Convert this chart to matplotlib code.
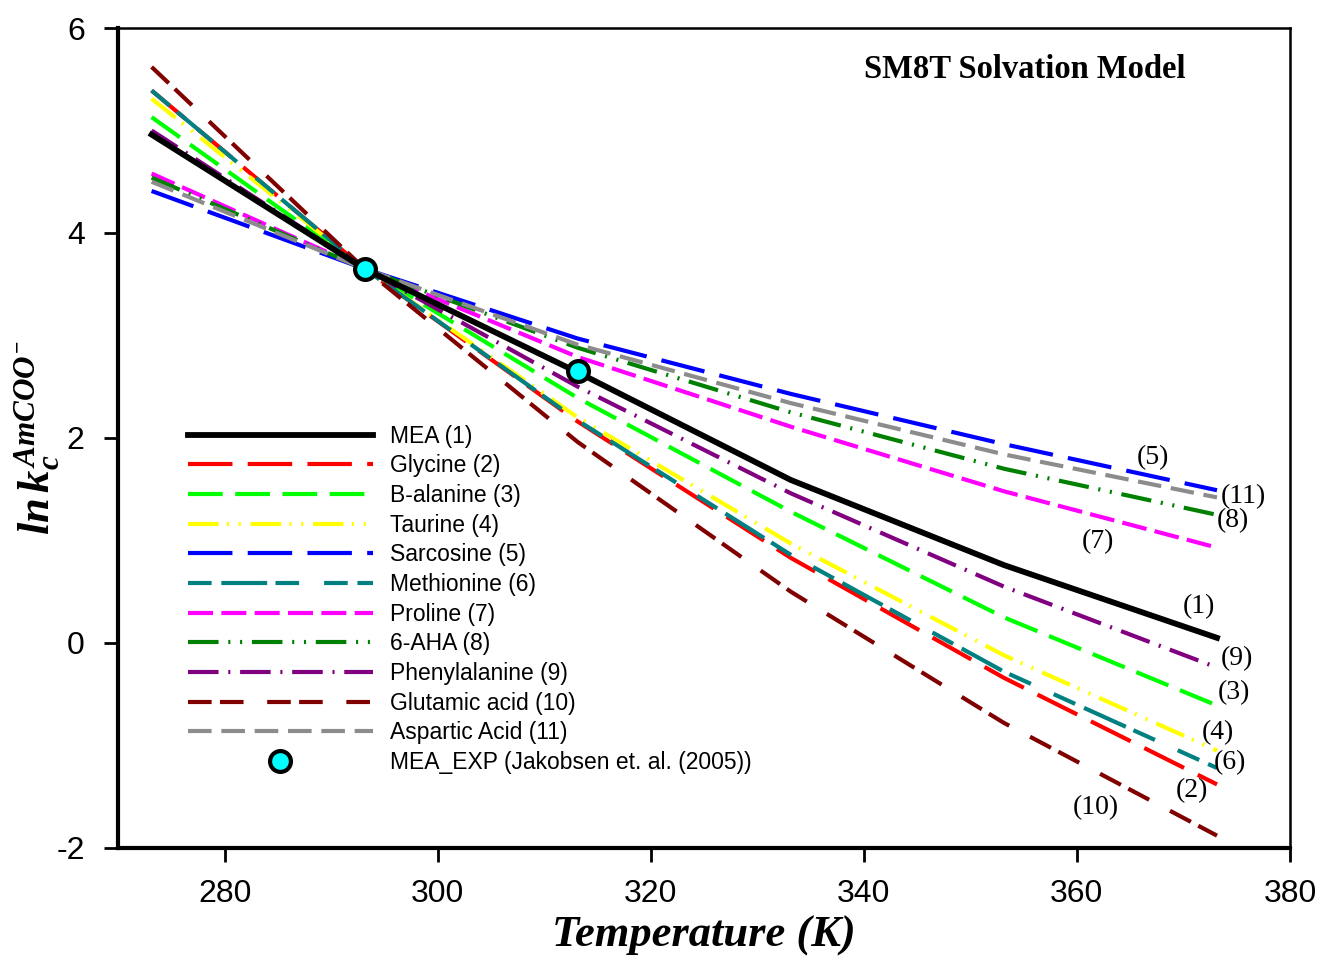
import numpy as np
import matplotlib.pyplot as plt

plt.rcParams['font.family'] = ['Liberation Sans', 'DejaVu Sans']
plt.rcParams['lines.scale_dashes'] = False
plt.rcParams['axes.unicode_minus'] = False
plt.rcParams['mathtext.fontset'] = 'custom'
plt.rcParams['mathtext.rm'] = 'Liberation Serif:bold'
plt.rcParams['mathtext.it'] = 'Liberation Serif:bold:italic'

# temperatures (K)
T = [273.15, 293.15, 313.15, 333.15, 353.15, 373.15]

# ln k values
mea = [4.96, 3.65, 2.64, 1.59, 0.76, 0.05]
glycine = [5.39, 3.65, 2.16, 0.83, -0.34, -1.38]
b_alanine = [5.13, 3.65, 2.39, 1.28, 0.25, -0.61]
taurine = [5.31, 3.65, 2.20, 0.97, -0.12, -1.05]
sarcosine = [4.41, 3.65, 2.97, 2.43, 1.94, 1.49]
methionine = [5.39, 3.65, 2.17, 0.86, -0.28, -1.22]
proline = [4.58, 3.65, 2.79, 2.11, 1.48, 0.93]
aha6 = [4.54, 3.65, 2.88, 2.25, 1.70, 1.25]
phenylalanine = [5.00, 3.65, 2.50, 1.46, 0.55, -0.24]
glutamic = [5.62, 3.65, 1.96, 0.50, -0.78, -1.88]
aspartic = [4.50, 3.65, 2.91, 2.34, 1.84, 1.42]

exp_T = [293.15, 313.15]
exp_lnk = [3.65, 2.65]

# end labels
lab_text = ['(5)', '(11)', '(8)', '(7)', '(1)', '(9)', '(3)', '(4)', '(6)', '(2)', '(10)']
lab_x = [367.1, 375.6, 374.6, 362.0, 371.5, 375.0, 374.7, 373.2, 374.4, 370.8, 361.8]
lab_y = [1.81, 1.43, 1.19, 0.99, 0.35, -0.15, -0.48, -0.87, -1.17, -1.44, -1.61]

fig = plt.figure(figsize=(13.19, 9.59), dpi=100)
ax = fig.add_axes([0.0895, 0.1158, 0.8885, 0.855])

lw = 3.0
ax.plot(T, mea, color='black', lw=4.2, label='MEA (1)', zorder=3)
ax.plot(T, glycine, color='#ff0000', lw=lw, dashes=(32, 11), label='Glycine (2)')
ax.plot(T, b_alanine, color='#00ff00', lw=lw, dashes=(25, 9), label='B-alanine (3)')
ax.plot(T, taurine, color='#ffff00', lw=lw, dashes=(22, 6, 1.5, 7, 1.5, 7), label='Taurine (4)')
ax.plot(T, sarcosine, color='#0000ff', lw=lw, dashes=(32, 11), label='Sarcosine (5)')
ax.plot(T, methionine, color='#008080', lw=lw, dashes=(17, 7, 33, 6, 17, 18), label='Methionine (6)')
ax.plot(T, proline, color='#ff00ff', lw=lw, dashes=(18, 6), label='Proline (7)')
ax.plot(T, aha6, color='#008000', lw=lw, dashes=(22, 7, 1.5, 7, 1.5, 7), label='6-AHA (8)')
ax.plot(T, phenylalanine, color='#800080', lw=lw, dashes=(22, 7, 1.5, 7), label='Phenylalanine (9)')
ax.plot(T, glutamic, color='#800000', lw=lw, dashes=(17, 6, 17, 17), label='Glutamic acid (10)')
ax.plot(T, aspartic, color='#8c8c8c', lw=lw, dashes=(17, 7), label='Aspartic Acid (11)')
ax.plot(exp_T, exp_lnk, 'o', color='#00ffff', markeredgecolor='black', markeredgewidth=3,
        markersize=15, label='MEA_EXP (Jakobsen et. al. (2005))', zorder=5)

for t, x, y in zip(lab_text, lab_x, lab_y):
    ax.text(x, y, t, fontsize=20, family='Liberation Serif', ha='center', va='center')

ax.text(0.774, 0.95, 'SM8T Solvation Model', transform=ax.transAxes, fontsize=23.5,
        family='Liberation Serif', weight='bold', ha='center', va='center')

ax.set_xlim(270, 380)
ax.set_ylim(-2, 6)
ax.set_xticks([280, 300, 320, 340, 360, 380])
ax.set_yticks([-2, 0, 2, 4, 6])
ax.tick_params(direction='out', length=10, width=2, labelsize=23)
ax.tick_params(axis='x', pad=12)
ax.tick_params(axis='y', pad=14)
for s in ['left', 'bottom']:
    ax.spines[s].set_linewidth(3)
for s in ['top', 'right']:
    ax.spines[s].set_linewidth(1.8)

ax.set_xlabel('Temperature (K)', family='Liberation Serif', style='italic', weight='bold',
              fontsize=32, labelpad=5)
ax.set_ylabel(r'$ln\,k_c^{AmCOO^{-}}$', fontsize=32, labelpad=-4)

leg = ax.legend(loc='upper left', bbox_to_anchor=(0.1425, 0.557), bbox_transform=fig.transFigure,
                frameon=False, fontsize=16.5, handlelength=8.07, handletextpad=0.74,
                labelspacing=0.29, borderpad=0, borderaxespad=0)

fig.savefig('out.png', dpi=100)
